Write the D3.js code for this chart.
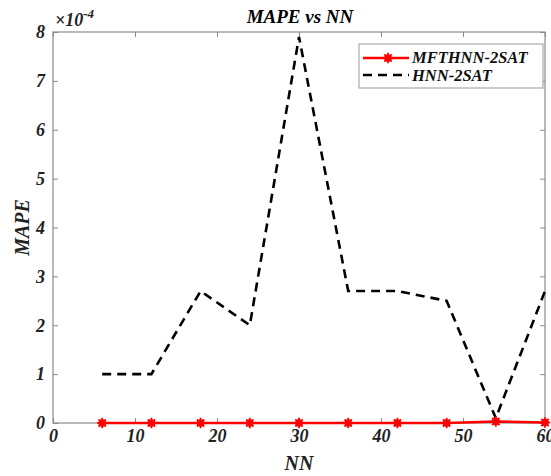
<!DOCTYPE html>
<html><head><meta charset="utf-8">
<script src="https://cdn.jsdelivr.net/npm/d3@7/dist/d3.min.js"></script>
<style>body{margin:0;background:#fff}svg{display:block}</style>
</head><body>
<script>
const nn = [6,12,18,24,30,36,42,48,54,60];
const mfthnn = [0,0,0,0,0,0,0,0,0.03,0.01];   // x1e-4
const hnn = [1.0,1.0,2.7,2.0,7.9,2.7,2.7,2.5,0.1,2.7]; // x1e-4
const xTicks = [0,10,20,30,40,50,60];
const yTicks = [0,1,2,3,4,5,6,7,8];
const seriesNames = ["MFTHNN-2SAT","HNN-2SAT"];

const W=551,H=476;
const m={l:53,r:545,t:32,b:423};
const font="'Liberation Serif','Times New Roman',serif";
const axisCol="#8a8a8a";
const svg=d3.select("body").append("svg").attr("width",W).attr("height",H);
const x=d3.scaleLinear().domain([0,60]).range([m.l,m.r]);
const y=d3.scaleLinear().domain([0,8]).range([m.b,m.t]);

svg.append("rect").attr("x",m.l).attr("y",m.t).attr("width",m.r-m.l).attr("height",m.b-m.t)
  .attr("fill","none").attr("stroke",axisCol).attr("stroke-width",1.2);

function styleAxis(g){
  g.select(".domain").remove();
  g.selectAll(".tick line").attr("stroke",axisCol).attr("stroke-width",1);
  g.selectAll(".tick text").attr("fill","#222").style("font-family",font)
   .style("font-weight","bold").style("font-style","italic").style("font-size","18px");
}
svg.append("g").attr("transform",`translate(0,${m.b})`)
  .call(d3.axisBottom(x).tickValues(xTicks).tickSize(-5).tickPadding(6)).call(styleAxis);
svg.append("g").attr("transform",`translate(0,${m.t})`)
  .call(d3.axisTop(x).tickValues(xTicks).tickSize(-5).tickFormat("")).call(styleAxis);
svg.append("g").attr("transform",`translate(${m.l},0)`)
  .call(d3.axisLeft(y).tickValues(yTicks).tickSize(-5).tickPadding(8)).call(styleAxis);
svg.append("g").attr("transform",`translate(${m.r},0)`)
  .call(d3.axisRight(y).tickValues(yTicks).tickSize(-5).tickFormat("")).call(styleAxis);

const line=d3.line().x((d,i)=>x(nn[i])).y(d=>y(d));
svg.append("path").datum(hnn).attr("d",line).attr("fill","none")
  .attr("stroke","#000").attr("stroke-width",2.6).attr("stroke-dasharray","9,6");
svg.append("path").datum(mfthnn).attr("d",line).attr("fill","none")
  .attr("stroke","#ff0000").attr("stroke-width",2.5);

function star(g,cx,cy){
  g.append("circle").attr("cx",cx).attr("cy",cy).attr("r",3.8).attr("fill","#ff0000");
  for(let a=0;a<4;a++){
    const ang=a*Math.PI/4, r=5.2;
    g.append("line").attr("x1",cx-r*Math.cos(ang)).attr("y1",cy-r*Math.sin(ang))
      .attr("x2",cx+r*Math.cos(ang)).attr("y2",cy+r*Math.sin(ang))
      .attr("stroke","#ff0000").attr("stroke-width",1.8);
  }
}
const mk=svg.append("g");
mfthnn.forEach((v,i)=>star(mk,x(nn[i]),y(v)));

const T=(t,xx,yy,size,anchor)=>svg.append("text").attr("x",xx).attr("y",yy).text(t)
  .attr("text-anchor",anchor||"middle").style("font-family",font).style("font-weight","bold")
  .style("font-style","italic").style("font-size",size+"px").attr("fill","#222");
T("MAPE vs NN",300,23,19).attr("fill","#000");
T("NN",(m.l+m.r)/2,470,20);
svg.append("text").attr("transform",`translate(29,${(m.t+m.b)/2}) rotate(-90)`)
  .attr("text-anchor","middle").text("MAPE").style("font-family",font).style("font-weight","bold")
  .style("font-style","italic").style("font-size","20px").attr("fill","#222");
const ex=svg.append("text").attr("x",55).attr("y",26).style("font-family",font)
  .style("font-weight","bold").style("font-style","italic").style("font-size","18px").attr("fill","#222");
ex.append("tspan").text("\u00d710");
ex.append("tspan").attr("dy",-8).style("font-size","13px").text("-4");

const lg=svg.append("g");
lg.append("rect").attr("x",359).attr("y",44).attr("width",184).attr("height",44)
  .attr("fill","#fff").attr("stroke","#999").attr("stroke-width",1);
lg.append("line").attr("x1",363).attr("x2",409).attr("y1",58).attr("y2",58).attr("stroke","#ff0000").attr("stroke-width",2.5);
star(lg,388,58);
lg.append("line").attr("x1",363).attr("x2",409).attr("y1",75).attr("y2",75).attr("stroke","#000")
  .attr("stroke-width",2.6).attr("stroke-dasharray","9,6");
T(seriesNames[0],412,63,16.5,"start").attr("fill","#111");
T(seriesNames[1],412,81,16.5,"start").attr("fill","#111");
</script>
</body></html>
